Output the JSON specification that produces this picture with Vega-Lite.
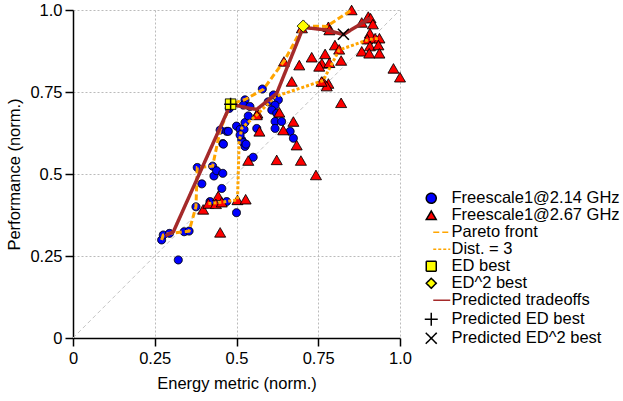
{
  "$schema": "https://vega.github.io/schema/vega-lite/v6.json",
  "width": 327,
  "height": 328,
  "autosize": {"type": "none"},
  "padding": {"left": 73, "top": 10, "right": 223, "bottom": 63},
  "background": "white",
  "config": {
    "view": {"stroke": null},
    "font": "Liberation Sans",
    "axis": {
      "labelFont": "Liberation Sans", "labelFontSize": 16.5, "labelColor": "#000",
      "titleFont": "Liberation Sans", "titleFontSize": 16.5, "titleFontWeight": "normal", "titleColor": "#000",
      "domainColor": "#000", "domainWidth": 1.5, "tickColor": "#000", "tickWidth": 1.5, "tickSize": 8,
      "gridColor": "#bbbbbb", "gridDash": [2, 2], "gridWidth": 1,
      "labelFlush": false, "labelOverlap": false
    },
    "legend": {"labelFont": "Liberation Sans", "labelFontSize": 16.5, "labelColor": "#000", "labelLimit": 400}
  },
  "data": {"values": [
    {"s":"Freescale1@2.14 GHz","x":0.271,"y":0.299},{"s":"Freescale1@2.14 GHz","x":0.276,"y":0.314},{"s":"Freescale1@2.14 GHz","x":0.295,"y":0.319},
    {"s":"Freescale1@2.14 GHz","x":0.322,"y":0.238},{"s":"Freescale1@2.14 GHz","x":0.340,"y":0.324},{"s":"Freescale1@2.14 GHz","x":0.355,"y":0.326},
    {"s":"Freescale1@2.14 GHz","x":0.376,"y":0.400},{"s":"Freescale1@2.14 GHz","x":0.380,"y":0.520},{"s":"Freescale1@2.14 GHz","x":0.394,"y":0.470},
    {"s":"Freescale1@2.14 GHz","x":0.419,"y":0.416},{"s":"Freescale1@2.14 GHz","x":0.427,"y":0.524},{"s":"Freescale1@2.14 GHz","x":0.431,"y":0.494},
    {"s":"Freescale1@2.14 GHz","x":0.439,"y":0.510},{"s":"Freescale1@2.14 GHz","x":0.455,"y":0.456},{"s":"Freescale1@2.14 GHz","x":0.458,"y":0.502},
    {"s":"Freescale1@2.14 GHz","x":0.470,"y":0.416},{"s":"Freescale1@2.14 GHz","x":0.500,"y":0.382},{"s":"Freescale1@2.14 GHz","x":0.450,"y":0.634},
    {"s":"Freescale1@2.14 GHz","x":0.470,"y":0.630},{"s":"Freescale1@2.14 GHz","x":0.458,"y":0.593},{"s":"Freescale1@2.14 GHz","x":0.478,"y":0.700},
    {"s":"Freescale1@2.14 GHz","x":0.500,"y":0.646},{"s":"Freescale1@2.14 GHz","x":0.511,"y":0.636},{"s":"Freescale1@2.14 GHz","x":0.526,"y":0.657},
    {"s":"Freescale1@2.14 GHz","x":0.523,"y":0.636},{"s":"Freescale1@2.14 GHz","x":0.516,"y":0.604},{"s":"Freescale1@2.14 GHz","x":0.521,"y":0.596},
    {"s":"Freescale1@2.14 GHz","x":0.536,"y":0.677},{"s":"Freescale1@2.14 GHz","x":0.526,"y":0.726},{"s":"Freescale1@2.14 GHz","x":0.521,"y":0.710},
    {"s":"Freescale1@2.14 GHz","x":0.541,"y":0.706},{"s":"Freescale1@2.14 GHz","x":0.579,"y":0.759},{"s":"Freescale1@2.14 GHz","x":0.613,"y":0.741},
    {"s":"Freescale1@2.14 GHz","x":0.628,"y":0.726},{"s":"Freescale1@2.14 GHz","x":0.597,"y":0.720},{"s":"Freescale1@2.14 GHz","x":0.618,"y":0.710},
    {"s":"Freescale1@2.14 GHz","x":0.608,"y":0.695},{"s":"Freescale1@2.14 GHz","x":0.623,"y":0.685},{"s":"Freescale1@2.14 GHz","x":0.618,"y":0.660},
    {"s":"Freescale1@2.14 GHz","x":0.638,"y":0.660},{"s":"Freescale1@2.14 GHz","x":0.618,"y":0.639},{"s":"Freescale1@2.14 GHz","x":0.664,"y":0.630},
    {"s":"Freescale1@2.14 GHz","x":0.674,"y":0.609},{"s":"Freescale1@2.14 GHz","x":0.562,"y":0.639},{"s":"Freescale1@2.14 GHz","x":0.551,"y":0.551},
    {"s":"Freescale1@2.14 GHz","x":0.511,"y":0.619},{"s":"Freescale1@2.14 GHz","x":0.526,"y":0.584},{"s":"Freescale1@2.14 GHz","x":0.460,"y":0.591},
    {"s":"Freescale1@2.14 GHz","x":0.529,"y":0.591},{"s":"Freescale1@2.14 GHz","x":0.475,"y":0.630},
    {"s":"Freescale1@2.67 GHz","x":0.398,"y":0.392},{"s":"Freescale1@2.67 GHz","x":0.414,"y":0.410},{"s":"Freescale1@2.67 GHz","x":0.444,"y":0.433},
    {"s":"Freescale1@2.67 GHz","x":0.437,"y":0.409},{"s":"Freescale1@2.67 GHz","x":0.455,"y":0.414},{"s":"Freescale1@2.67 GHz","x":0.503,"y":0.421},
    {"s":"Freescale1@2.67 GHz","x":0.528,"y":0.423},{"s":"Freescale1@2.67 GHz","x":0.450,"y":0.322},{"s":"Freescale1@2.67 GHz","x":0.536,"y":0.541},
    {"s":"Freescale1@2.67 GHz","x":0.623,"y":0.543},{"s":"Freescale1@2.67 GHz","x":0.697,"y":0.541},{"s":"Freescale1@2.67 GHz","x":0.743,"y":0.497},
    {"s":"Freescale1@2.67 GHz","x":0.564,"y":0.685},{"s":"Freescale1@2.67 GHz","x":0.570,"y":0.630},{"s":"Freescale1@2.67 GHz","x":0.631,"y":0.688},
    {"s":"Freescale1@2.67 GHz","x":0.674,"y":0.660},{"s":"Freescale1@2.67 GHz","x":0.643,"y":0.634},{"s":"Freescale1@2.67 GHz","x":0.684,"y":0.588},
    {"s":"Freescale1@2.67 GHz","x":0.669,"y":0.782},{"s":"Freescale1@2.67 GHz","x":0.781,"y":0.776},{"s":"Freescale1@2.67 GHz","x":0.852,"y":1.000},
    {"s":"Freescale1@2.67 GHz","x":0.781,"y":0.949},{"s":"Freescale1@2.67 GHz","x":0.784,"y":0.939},{"s":"Freescale1@2.67 GHz","x":0.903,"y":0.980},
    {"s":"Freescale1@2.67 GHz","x":0.910,"y":0.975},{"s":"Freescale1@2.67 GHz","x":0.883,"y":0.962},{"s":"Freescale1@2.67 GHz","x":0.917,"y":0.957},
    {"s":"Freescale1@2.67 GHz","x":0.908,"y":0.929},{"s":"Freescale1@2.67 GHz","x":0.900,"y":0.911},{"s":"Freescale1@2.67 GHz","x":0.924,"y":0.914},
    {"s":"Freescale1@2.67 GHz","x":0.937,"y":0.914},{"s":"Freescale1@2.67 GHz","x":0.908,"y":0.890},{"s":"Freescale1@2.67 GHz","x":0.934,"y":0.893},
    {"s":"Freescale1@2.67 GHz","x":0.883,"y":0.874},{"s":"Freescale1@2.67 GHz","x":0.906,"y":0.868},{"s":"Freescale1@2.67 GHz","x":0.937,"y":0.868},
    {"s":"Freescale1@2.67 GHz","x":0.980,"y":0.822},{"s":"Freescale1@2.67 GHz","x":1.000,"y":0.795},{"s":"Freescale1@2.67 GHz","x":0.801,"y":0.893},
    {"s":"Freescale1@2.67 GHz","x":0.814,"y":0.880},{"s":"Freescale1@2.67 GHz","x":0.771,"y":0.866},{"s":"Freescale1@2.67 GHz","x":0.730,"y":0.856},
    {"s":"Freescale1@2.67 GHz","x":0.820,"y":0.846},{"s":"Freescale1@2.67 GHz","x":0.692,"y":0.832},{"s":"Freescale1@2.67 GHz","x":0.761,"y":0.837},
    {"s":"Freescale1@2.67 GHz","x":0.784,"y":0.839},{"s":"Freescale1@2.67 GHz","x":0.753,"y":0.828},{"s":"Freescale1@2.67 GHz","x":0.765,"y":0.782},
    {"s":"Freescale1@2.67 GHz","x":0.776,"y":0.768},{"s":"Freescale1@2.67 GHz","x":0.820,"y":0.717},{"s":"Freescale1@2.67 GHz","x":0.645,"y":0.843},
    {"s":"Freescale1@2.67 GHz","x":0.700,"y":0.945},{"s":"Freescale1@2.67 GHz","x":0.562,"y":0.680},{"s":"Freescale1@2.67 GHz","x":0.760,"y":0.782},
    {"s":"Pareto front","x":0.271,"y":0.299,"o":1},{"s":"Pareto front","x":0.276,"y":0.314,"o":2},{"s":"Pareto front","x":0.295,"y":0.319,"o":3},
    {"s":"Pareto front","x":0.340,"y":0.324,"o":4},{"s":"Pareto front","x":0.355,"y":0.326,"o":5},{"s":"Pareto front","x":0.376,"y":0.400,"o":6},
    {"s":"Pareto front","x":0.380,"y":0.520,"o":7},{"s":"Pareto front","x":0.427,"y":0.524,"o":8},{"s":"Pareto front","x":0.450,"y":0.634,"o":9},
    {"s":"Pareto front","x":0.482,"y":0.713,"o":10},{"s":"Pareto front","x":0.526,"y":0.727,"o":11},{"s":"Pareto front","x":0.582,"y":0.758,"o":12},
    {"s":"Pareto front","x":0.648,"y":0.848,"o":13},{"s":"Pareto front","x":0.704,"y":0.951,"o":14},{"s":"Pareto front","x":0.776,"y":0.950,"o":15},
    {"s":"Pareto front","x":0.852,"y":1.000,"o":16},
    {"s":"Dist. = 3","x":0.414,"y":0.410,"o":1},{"s":"Dist. = 3","x":0.455,"y":0.414,"o":2},{"s":"Dist. = 3","x":0.503,"y":0.421,"o":3},
    {"s":"Dist. = 3","x":0.508,"y":0.595,"o":4},{"s":"Dist. = 3","x":0.516,"y":0.640,"o":5},{"s":"Dist. = 3","x":0.562,"y":0.680,"o":6},
    {"s":"Dist. = 3","x":0.618,"y":0.736,"o":7},{"s":"Dist. = 3","x":0.765,"y":0.785,"o":8},{"s":"Dist. = 3","x":0.814,"y":0.878,"o":9},
    {"s":"Dist. = 3","x":0.908,"y":0.911,"o":10},{"s":"Dist. = 3","x":0.939,"y":0.914,"o":11},
    {"s":"Predicted tradeoffs","x":0.283,"y":0.312,"o":1},{"s":"Predicted tradeoffs","x":0.307,"y":0.324,"o":2},{"s":"Predicted tradeoffs","x":0.482,"y":0.713,"o":3},
    {"s":"Predicted tradeoffs","x":0.541,"y":0.700,"o":4},{"s":"Predicted tradeoffs","x":0.562,"y":0.697,"o":5},{"s":"Predicted tradeoffs","x":0.623,"y":0.746,"o":6},
    {"s":"Predicted tradeoffs","x":0.704,"y":0.947,"o":7},{"s":"Predicted tradeoffs","x":0.776,"y":0.939,"o":8},{"s":"Predicted tradeoffs","x":0.827,"y":0.925,"o":9},
    {"s":"Predicted tradeoffs","x":0.908,"y":0.975,"o":10},
    {"s":"ED best","x":0.482,"y":0.713},
    {"s":"ED^2 best","x":0.704,"y":0.951},
    {"s":"Predicted ED best","x":0.482,"y":0.713},
    {"s":"Predicted ED^2 best","x":0.827,"y":0.926}
  ]},
  "encoding": {
    "x": {"field": "x", "type": "quantitative", "scale": {"domain": [0, 1], "nice": false},
      "axis": {"title": "Energy metric (norm.)", "values": [0, 0.25, 0.5, 0.75, 1], "labelExpr": "datum.value == 1 ? '1.0' : '' + datum.value", "labelPadding": 4, "titlePadding": 9}},
    "y": {"field": "y", "type": "quantitative", "scale": {"domain": [0, 1], "nice": false},
      "axis": {"title": "Performance (norm.)", "values": [0, 0.25, 0.5, 0.75, 1], "labelExpr": "datum.value == 1 ? '1.0' : '' + datum.value", "labelPadding": 3, "titlePadding": 7}}
  },
  "layer": [
    {
      "data": {"values": [{"x": 0, "y": 0}, {"x": 1, "y": 1}]},
      "mark": {"type": "line", "color": "#c4c4c4", "strokeWidth": 1, "strokeDash": [4, 3]},
      "encoding": {}
    },
    {
      "transform": [{"filter": {"field": "s", "equal": "Freescale1@2.14 GHz"}}],
      "mark": {"type": "point", "filled": true, "opacity": 1, "size": 64, "strokeWidth": 1},
      "encoding": {
        "shape": {"field": "s", "type": "nominal", "scale": {"domain": ["Freescale1@2.14 GHz","Freescale1@2.67 GHz","Pareto front","Dist. = 3","ED best","ED^2 best","Predicted tradeoffs","Predicted ED best","Predicted ED^2 best"], "range": ["circle","triangle-up","M0.4,0H3.8","M0.4,0H3.8","square","diamond","M0.4,0H3.8","M-1.3,0H1.3M0,-1.3V1.3","M-1.1,-1.1L1.1,1.1M-1.1,1.1L1.1,-1.1"]},
          "legend": {"title": null, "orient": "none", "legendX": 350, "legendY": 180, "labelOffset": 12, "rowPadding": 0, "symbolOpacity": 1,
            "encode": {"symbols": {"update": {
              "strokeWidth": {"signal": "indexof(['Pareto front','Dist. = 3','Predicted tradeoffs'], datum.value) >= 0 ? 3 : (indexof(['Predicted ED best','Predicted ED^2 best'], datum.value) >= 0 ? 1.5 : 1)"},
              "size": {"signal": "datum.value == 'Freescale1@2.14 GHz' ? 64 : (datum.value == 'Freescale1@2.67 GHz' ? 120 : (datum.value == 'ED^2 best' ? 150 : (datum.value == 'ED best' ? 110 : 100)))"}}}}}},
        "fill": {"field": "s", "type": "nominal", "scale": {"domain": ["Freescale1@2.14 GHz","Freescale1@2.67 GHz","Pareto front","Dist. = 3","ED best","ED^2 best","Predicted tradeoffs","Predicted ED best","Predicted ED^2 best"], "range": ["#0000ff","#ff0000","transparent","transparent","#ffff00","#ffff00","transparent","transparent","transparent"]}},
        "stroke": {"field": "s", "type": "nominal", "scale": {"domain": ["Freescale1@2.14 GHz","Freescale1@2.67 GHz","Pareto front","Dist. = 3","ED best","ED^2 best","Predicted tradeoffs","Predicted ED best","Predicted ED^2 best"], "range": ["#000000","#000000","#ffa500","#ffa500","#000000","#000000","#a52a2a","#000000","#000000"]}},
        "strokeDash": {"field": "s", "type": "nominal", "scale": {"domain": ["Freescale1@2.14 GHz","Freescale1@2.67 GHz","Pareto front","Dist. = 3","ED best","ED^2 best","Predicted tradeoffs","Predicted ED best","Predicted ED^2 best"], "range": [[1,0],[1,0],[6,3],[3,2],[1,0],[1,0],[1,0],[1,0],[1,0]]}}
      }
    },
    {
      "transform": [{"filter": {"field": "s", "equal": "Freescale1@2.67 GHz"}}],
      "mark": {"type": "point", "filled": true, "opacity": 1, "size": 120, "strokeWidth": 1},
      "encoding": {
        "shape": {"field": "s", "type": "nominal"}, "fill": {"field": "s", "type": "nominal"},
        "stroke": {"field": "s", "type": "nominal"}, "strokeDash": {"field": "s", "type": "nominal"}
      }
    },
    {
      "transform": [{"filter": {"field": "s", "equal": "Pareto front"}}],
      "mark": {"type": "line", "strokeWidth": 3},
      "encoding": {"order": {"field": "o", "type": "quantitative"}, "stroke": {"field": "s", "type": "nominal"}, "strokeDash": {"field": "s", "type": "nominal"}}
    },
    {
      "transform": [{"filter": {"field": "s", "equal": "Dist. = 3"}}],
      "mark": {"type": "line", "strokeWidth": 3},
      "encoding": {"order": {"field": "o", "type": "quantitative"}, "stroke": {"field": "s", "type": "nominal"}, "strokeDash": {"field": "s", "type": "nominal"}}
    },
    {
      "transform": [{"filter": {"field": "s", "equal": "Predicted tradeoffs"}}],
      "mark": {"type": "line", "strokeWidth": 3.5},
      "encoding": {"order": {"field": "o", "type": "quantitative"}, "stroke": {"field": "s", "type": "nominal"}, "strokeDash": {"field": "s", "type": "nominal"}}
    },
    {
      "transform": [{"filter": {"field": "s", "equal": "ED best"}}],
      "mark": {"type": "point", "filled": true, "opacity": 1, "size": 110, "strokeWidth": 1},
      "encoding": {
        "shape": {"field": "s", "type": "nominal"}, "fill": {"field": "s", "type": "nominal"},
        "stroke": {"field": "s", "type": "nominal"}, "strokeDash": {"field": "s", "type": "nominal"}
      }
    },
    {
      "transform": [{"filter": {"field": "s", "equal": "ED^2 best"}}],
      "mark": {"type": "point", "filled": true, "opacity": 1, "size": 150, "strokeWidth": 1},
      "encoding": {
        "shape": {"field": "s", "type": "nominal"}, "fill": {"field": "s", "type": "nominal"},
        "stroke": {"field": "s", "type": "nominal"}, "strokeDash": {"field": "s", "type": "nominal"}
      }
    },
    {
      "transform": [{"filter": {"field": "s", "oneOf": ["Predicted ED best", "Predicted ED^2 best"]}}],
      "mark": {"type": "point", "filled": true, "opacity": 1, "size": 100, "strokeWidth": 1.5},
      "encoding": {
        "shape": {"field": "s", "type": "nominal"}, "fill": {"field": "s", "type": "nominal"},
        "stroke": {"field": "s", "type": "nominal"}, "strokeDash": {"field": "s", "type": "nominal"}
      }
    }
  ]
}
